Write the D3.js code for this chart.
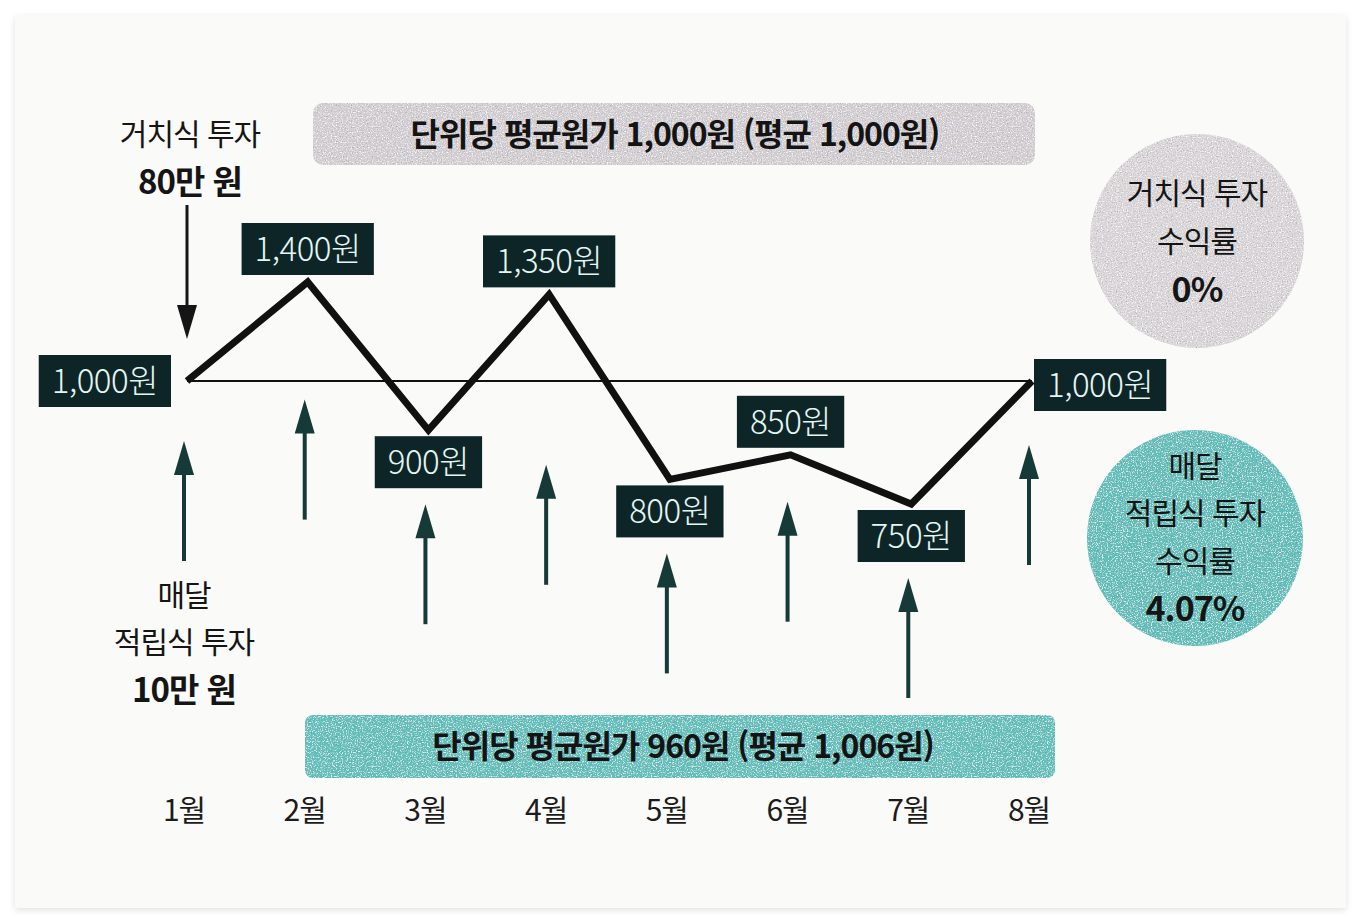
<!DOCTYPE html>
<html lang="ko">
<head>
<meta charset="UTF-8">
<title>적립식 투자 vs 거치식 투자</title>
<script src="https://d3js.org/d3.v7.min.js"></script>
<style>
  html, body { margin: 0; padding: 0; background: #ffffff; }
  svg { display: block; font-family: "Noto Sans CJK KR", "Noto Sans", sans-serif; }
</style>
</head>
<body>
<div id="chart"></div>
<script>
// chart data
const months = ["1월", "2월", "3월", "4월", "5월", "6월", "7월", "8월"];
const prices = [1000, 1400, 900, 1350, 800, 850, 750, 1000];
const priceLabels = ["1,000원", "1,400원", "900원", "1,350원", "800원", "850원", "750원", "1,000원"];
const lumpSumText = ["거치식 투자", "80만 원"];
const monthlyText = ["매달", "적립식 투자", "10만 원"];
const lumpBanner = "단위당 평균원가 1,000원 (평균 1,000원)";
const monthlyBanner = "단위당 평균원가 960원 (평균 1,006원)";
const lumpReturn = ["거치식 투자", "수익률", "0%"];
const monthlyReturn = ["매달", "적립식 투자", "수익률", "4.07%"];

const W = 1361, H = 922;
const svg = d3.select("#chart").append("svg")
    .attr("width", W)
    .attr("height", H);

const defs = svg.append("defs");

// soft shadow for the card
const shadow = defs.append("filter").attr("id", "shadow")
    .attr("x", "-5%").attr("y", "-5%").attr("width", "110%").attr("height", "110%");
shadow.append("feDropShadow")
    .attr("dx", 0).attr("dy", 2).attr("stdDeviation", 3)
    .attr("flood-color", "#000").attr("flood-opacity", 0.12);

// grainy print texture: sparse light and dark specks over the fill
const grain = defs.append("filter").attr("id", "grain");
grain.append("feTurbulence")
    .attr("type", "fractalNoise").attr("baseFrequency", 0.8)
    .attr("numOctaves", 2).attr("seed", 5).attr("result", "noise");
grain.append("feColorMatrix").attr("in", "noise").attr("type", "matrix")
    .attr("values", "0 0 0 0 1  0 0 0 0 1  0 0 0 0 1  3 0 0 0 -1.55")
    .attr("result", "light");
grain.append("feColorMatrix").attr("in", "noise").attr("type", "matrix")
    .attr("values", "0 0 0 0 0.15  0 0 0 0 0.2  0 0 0 0 0.2  -2 0 0 0 0.8")
    .attr("result", "dark");
grain.append("feComposite").attr("in", "light").attr("in2", "SourceGraphic")
    .attr("operator", "in").attr("result", "lightIn");
grain.append("feComposite").attr("in", "dark").attr("in2", "SourceGraphic")
    .attr("operator", "in").attr("result", "darkIn");
grain.append("feMerge").call(m => {
    m.append("feMergeNode").attr("in", "SourceGraphic");
    m.append("feMergeNode").attr("in", "lightIn");
    m.append("feMergeNode").attr("in", "darkIn");
});

// card
svg.append("rect")
    .attr("x", 15).attr("y", 15)
    .attr("width", 1331).attr("height", 893)
    .attr("rx", 3)
    .attr("fill", "#fafaf8")
    .attr("filter", "url(#shadow)");

// scales
const x = d3.scalePoint().domain(months).range([187, 1032]);
const y = d3.scaleLinear().domain([750, 1000, 1400]).range([504, 381, 282]);

const g = svg.append("g");

// top banner (lump sum)
g.append("rect")
    .attr("x", 313).attr("y", 103)
    .attr("width", 722).attr("height", 62)
    .attr("rx", 10)
    .attr("fill", "#d2cdd1")
    .attr("filter", "url(#grain)");
g.append("text")
    .attr("x", 675).attr("y", 146)
    .attr("text-anchor", "middle")
    .style("font-size", "32px")
    .style("font-weight", 700)
    .style("letter-spacing", "-1px")
    .attr("fill", "#141414")
    .text(lumpBanner);

// bottom banner (monthly)
g.append("rect")
    .attr("x", 305).attr("y", 715)
    .attr("width", 750).attr("height", 63)
    .attr("rx", 8)
    .attr("fill", "#64bfbb")
    .attr("filter", "url(#grain)");
g.append("text")
    .attr("x", 683).attr("y", 758)
    .attr("text-anchor", "middle")
    .style("font-size", "32px")
    .style("font-weight", 700)
    .style("letter-spacing", "-1px")
    .attr("fill", "#141414")
    .text(monthlyBanner);

// reference line at the first month's price
const first = prices[0];
g.append("line")
    .attr("x1", x(months[0])).attr("x2", x(months[months.length - 1]))
    .attr("y1", y(first)).attr("y2", y(first))
    .attr("stroke", "#111")
    .attr("stroke-width", 2.2);

// price line
const pts = months.map((m, i) => ({ m, v: prices[i], label: priceLabels[i], i }));
g.append("path")
    .datum(pts)
    .attr("d", d3.line().x(d => x(d.m)).y(d => y(d.v)))
    .attr("fill", "none")
    .attr("stroke", "#111")
    .attr("stroke-width", 7)
    .attr("stroke-linejoin", "miter");

// where each price box goes
function placement(i) {
    if (i === 0) return "left";
    if (i === prices.length - 1) return "right";
    return prices[i] > prices[i - 1] && prices[i] > prices[i + 1] ? "above" : "below";
}

const boxH = 52;
const labels = g.selectAll(".price").data(pts).enter().append("g").attr("class", "price");
labels.append("rect").attr("fill", "#0e2528");
labels.append("text")
    .style("font-size", "33px")
    .style("font-weight", 300)
    .style("letter-spacing", "-0.5px")
    .attr("fill", "#e4f6f2")
    .attr("text-anchor", "middle")
    .text(d => d.label);

labels.each(function(d) {
    const sel = d3.select(this);
    const tw = sel.select("text").node().getComputedTextLength();
    const bw = tw + 26;
    const px = x(d.m), py = y(d.v);
    const pos = placement(d.i);
    let bx, by;
    if (pos === "left") { bx = px - 16 - bw; by = py - boxH / 2; }
    else if (pos === "right") { bx = px + 2; by = py - boxH / 2 + 4; }
    else if (pos === "above") { bx = px - bw / 2; by = py - 7 - boxH; }
    else { bx = px - bw / 2; by = py + 6; }
    sel.select("rect").attr("x", bx).attr("y", by).attr("width", bw).attr("height", boxH);
    sel.select("text").attr("x", bx + bw / 2).attr("y", by + 38);
    d.boxBottom = by + boxH;
    d.pos = pos;
});

// arrows
function arrow(parent, ax, y1, y2, color, shaftW) {
    // y1 = tail, y2 = tip
    const dir = y2 > y1 ? 1 : -1;
    const headL = 34, headW = 10;
    parent.append("line")
        .attr("x1", ax).attr("x2", ax)
        .attr("y1", y1).attr("y2", y2 - dir * headL * 0.6)
        .attr("stroke", color).attr("stroke-width", shaftW);
    parent.append("path")
        .attr("d", `M${ax},${y2} L${ax - headW},${y2 - dir * headL} L${ax + headW},${y2 - dir * headL} Z`)
        .attr("fill", color);
}

// lump-sum arrow into month 1
arrow(g, x(months[0]), 205, 339, "#151515", 3);

// monthly arrows, one per month, equal length, tucked under the labels
const arrowLen = 120;
pts.forEach(d => {
    let tip;
    if (d.pos === "above") {
        tip = (pts[d.i - 1].boxBottom + pts[d.i + 1].boxBottom) / 2 - 48;
    } else if (d.pos === "below") {
        tip = d.boxBottom + 16;
    } else {
        tip = d.boxBottom + 34;
    }
    arrow(g, x(d.m) - 3, tip + arrowLen, tip, "#163a38", 4);
});

// side texts
function textLines(lines, cx, ys, boldIdx, size, boldSize) {
    lines.forEach((t, i) => {
        const b = boldIdx.includes(i);
        g.append("text")
            .attr("x", cx).attr("y", ys[i])
            .attr("text-anchor", "middle")
            .style("font-size", (b ? boldSize : size) + "px")
            .style("font-weight", b ? 700 : 400)
            .style("letter-spacing", "-1px")
            .attr("fill", "#151515")
            .text(t);
    });
}
textLines(lumpSumText, 190, [145, 194], [1], 30, 33);
textLines(monthlyText, 184, [606, 653, 702], [2], 30, 33);

// month labels
g.selectAll(".month").data(months).enter().append("text")
    .attr("class", "month")
    .attr("x", d => x(d) - 3)
    .attr("y", 821)
    .attr("text-anchor", "middle")
    .style("font-size", "30px")
    .style("letter-spacing", "-1px")
    .attr("fill", "#1c1c1c")
    .text(d => d);

// return circles
g.append("circle")
    .attr("cx", 1197).attr("cy", 241).attr("r", 107)
    .attr("fill", "#d8d4d7")
    .attr("filter", "url(#grain)");
textLines(lumpReturn, 1197, [204, 252, 302], [2], 30, 34);

g.append("circle")
    .attr("cx", 1195).attr("cy", 538).attr("r", 108)
    .attr("fill", "#62beba")
    .attr("filter", "url(#grain)");
textLines(monthlyReturn, 1195, [477, 524, 572, 621], [3], 30, 34);
</script>
</body>
</html>
